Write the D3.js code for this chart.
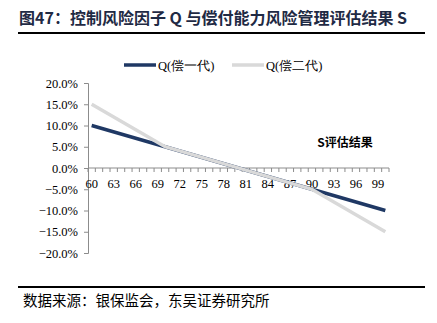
<!DOCTYPE html>
<html><head><meta charset="utf-8">
<script src="https://cdn.jsdelivr.net/npm/d3@7"></script>
<style>body{margin:0;background:#fff}svg{display:block}</style>
</head><body>
<svg id="c" width="437" height="323"></svg>
<script>
const categories = d3.range(60, 101);
const seriesNames = ["Q(偿一代)", "Q(偿二代)"];
const q1 = [
  [60, 0.10], [70, 0.05], [90, -0.05], [100, -0.10]
];
const q2 = [
  [60, 0.15], [70, 0.05], [90, -0.05], [100, -0.15]
];
const yTicks = [0.2, 0.15, 0.1, 0.05, 0, -0.05, -0.1, -0.15, -0.2];
const xLabels = d3.range(60, 100, 3);
const colors = ["#1f3864", "#d9d9d9"];

const svg = d3.select("#c");
const serif = "'Liberation Serif','Times New Roman',serif";
const cjk = "'Noto Sans CJK SC',sans-serif";

// title
svg.append("text").attr("x", 19).attr("y", 24)
  .attr("font-family", cjk).attr("font-weight", "bold").attr("font-size", 16)
  .attr("fill", "#1f2a44").text("图47：控制风险因子 Q 与偿付能力风险管理评估结果 S");
svg.append("line").attr("x1", 18).attr("x2", 425).attr("y1", 33).attr("y2", 33)
  .attr("stroke", "#000").attr("stroke-width", 2);
svg.append("line").attr("x1", 18).attr("x2", 425).attr("y1", 287).attr("y2", 287)
  .attr("stroke", "#000").attr("stroke-width", 2);
svg.append("text").attr("x", 23).attr("y", 306)
  .attr("font-family", cjk).attr("font-size", 14.5).attr("fill", "#000")
  .text("数据来源：银保监会，东吴证券研究所");

const x = d3.scaleBand().domain(categories).range([88, 389]);
const y = d3.scaleLinear().domain([-0.2, 0.2]).range([253, 83]);
const axisColor = "#8c8c8c";

// y axis
const ya = svg.append("g").attr("transform", "translate(88,0)")
  .call(d3.axisLeft(y).tickValues(yTicks).tickSize(4).tickFormat(d3.format(".1%")));
ya.select(".domain").attr("stroke", axisColor);
ya.selectAll(".tick line").attr("stroke", axisColor);
ya.selectAll("text").attr("font-family", serif).attr("font-size", 12.5).attr("fill", "#000").attr("x", -10);

// x axis at 0
const xa = svg.append("g").attr("transform", `translate(0,${y(0)})`);
xa.append("line").attr("x1", 88).attr("x2", 389).attr("stroke", axisColor);
const bounds = d3.range(0, categories.length + 1).map(i => 88 + i * x.step());
xa.selectAll("line.t").data(bounds).join("line").attr("class", "t")
  .attr("x1", d => d).attr("x2", d => d).attr("y1", 0).attr("y2", 4).attr("stroke", axisColor);
xa.selectAll("text").data(xLabels).join("text")
  .attr("x", d => x(d) + x.bandwidth() / 2).attr("y", 20)
  .attr("text-anchor", "middle").attr("font-family", serif).attr("font-size", 12.5)
  .text(d => d);

const cx = d => x(d) + x.bandwidth() / 2;
const line = d3.line().x(d => cx(d[0])).y(d => y(d[1]));
[q1, q2].forEach((s, i) => {
  svg.append("path").datum(s).attr("d", line).attr("fill", "none")
    .attr("stroke", colors[i]).attr("stroke-width", 3.5);
});

// legend
const lg = [[124, 158], [232, 266]];
seriesNames.forEach((n, i) => {
  svg.append("line").attr("x1", lg[i][0]).attr("x2", lg[i][0] + 32).attr("y1", 65).attr("y2", 65)
    .attr("stroke", colors[i]).attr("stroke-width", 3.5);
  svg.append("text").attr("x", lg[i][1]).attr("y", 69.5)
    .attr("font-family", serif).attr("font-size", 12.5).text(n);
});

svg.append("text").attr("x", 345).attr("y", 147).attr("text-anchor", "middle")
  .attr("font-family", cjk).attr("font-weight", "bold").attr("font-size", 12)
  .attr("fill", "#000").text("S评估结果");
</script>
</body></html>
